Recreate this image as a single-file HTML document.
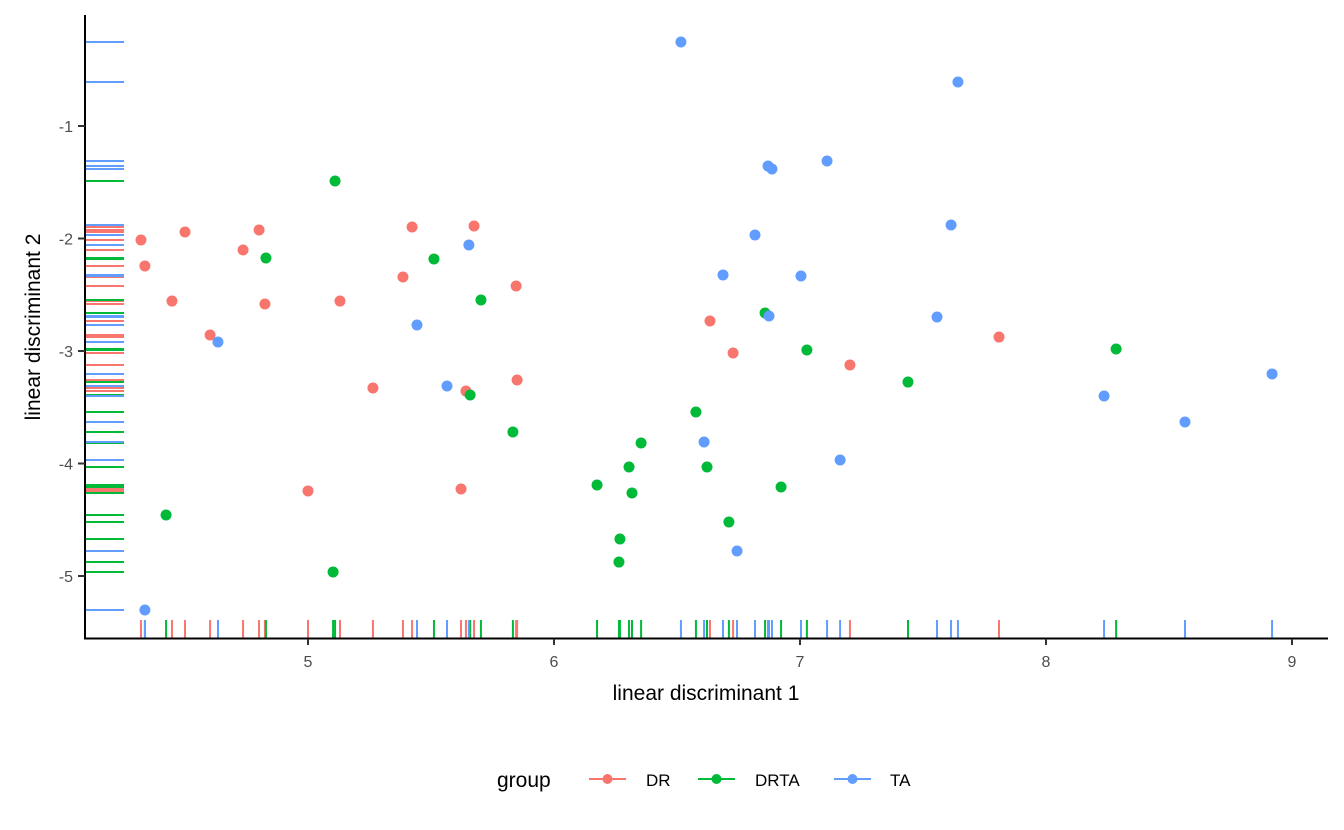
<!DOCTYPE html>
<html><head><meta charset="utf-8"><style>
body{margin:0;background:#fff;}
svg{display:block;font-family:"Liberation Sans",sans-serif;}
</style></head><body>
<svg id="chart" width="1344" height="830">
<g id="rugs"></g>
<g id="points"></g>
<g id="axes"></g>
<text x="706" y="700" font-size="21" text-anchor="middle" fill="#000">linear discriminant 1</text>
<text x="0" y="0" font-size="21" text-anchor="middle" fill="#000" transform="translate(40,327) rotate(-90)">linear discriminant 2</text>
<g>
<text x="497" y="787" font-size="21" fill="#000">group</text>
<g><line x1="589" y1="779" x2="626" y2="779" stroke="#F8766D" stroke-width="2"/><circle cx="607.5" cy="779" r="5" fill="#F8766D"/><text x="646" y="786" font-size="17">DR</text></g>
<g><line x1="698" y1="779" x2="735" y2="779" stroke="#00BA38" stroke-width="2"/><circle cx="716.5" cy="779" r="5" fill="#00BA38"/><text x="755" y="786" font-size="17">DRTA</text></g>
<g><line x1="834" y1="779" x2="871" y2="779" stroke="#619CFF" stroke-width="2"/><circle cx="852.5" cy="779" r="5" fill="#619CFF"/><text x="890" y="786" font-size="17">TA</text></g>
</g>
</svg>
<script>
const groups=["DR","DRTA","TA"];
const colors=["#F8766D","#00BA38","#619CFF"];
const drX=[4.321,4.337,4.5,4.447,4.736,4.801,4.825,4.602,5.0,5.13,5.264,5.386,5.423,5.675,5.642,5.622,5.846,5.85,6.634,6.728,7.203,7.809];
const drY=[-2.013,-2.244,-1.942,-2.556,-2.102,-1.924,-2.582,-2.858,-4.244,-2.556,-3.329,-2.342,-1.898,-1.889,-3.356,-4.227,-2.422,-3.258,-2.733,-3.018,-3.124,-2.876];
const drtaX=[5.11,4.829,5.512,5.703,5.659,5.833,4.423,5.102,6.175,6.305,6.354,6.317,6.268,6.264,6.577,6.622,6.711,6.858,7.028,6.923,7.439,8.285];
const drtaY=[-1.489,-2.173,-2.182,-2.547,-3.391,-3.72,-4.458,-4.964,-4.191,-4.031,-3.818,-4.262,-4.671,-4.876,-3.542,-4.031,-4.52,-2.662,-2.991,-4.209,-3.276,-2.982];
const taX=[4.634,4.337,5.443,5.565,5.654,6.516,7.642,6.87,6.886,7.11,6.817,6.687,6.874,7.004,7.614,7.557,6.61,7.163,6.744,8.236,8.565,8.919];
const taY=[-2.92,-5.302,-2.769,-3.311,-2.058,-0.253,-0.609,-1.356,-1.382,-1.311,-1.969,-2.324,-2.689,-2.333,-1.88,-2.698,-3.809,-3.969,-4.778,-3.4,-3.631,-3.204];
const xTicks=[5,6,7,8,9];
const yTicks=[-1,-2,-3,-4,-5];
const NS="http://www.w3.org/2000/svg";
const xs=v=>308+(v-5)*246;
const ys=v=>126+(-1-v)*112.5;
function mk(tag,attrs,parent){const e=document.createElementNS(NS,tag);for(const k in attrs)e.setAttribute(k,attrs[k]);parent.appendChild(e);return e;}
const rugs=document.getElementById('rugs'),pts=document.getElementById('points'),axes=document.getElementById('axes');
const data=[[drX,drY],[drtaX,drtaY],[taX,taY]];
data.forEach((d,g)=>{
  d[0].forEach((x,i)=>{
    const y=d[1][i];
    const r1=mk('line',{x1:xs(x),x2:xs(x),y1:620,y2:638,stroke:colors[g],'stroke-width':2},rugs);
    
    
    const r2=mk('line',{x1:86,x2:124,y1:ys(y),y2:ys(y),stroke:colors[g],'stroke-width':2},rugs);
    
    
  });
});
data.forEach((d,g)=>{
  d[0].forEach((x,i)=>{
    const c=mk('circle',{cx:xs(x),cy:ys(d[1][i]),r:5.5,fill:colors[g]},pts);
    
    
  });
});
mk('line',{x1:85,x2:85,y1:15,y2:639.5,stroke:'#000','stroke-width':2},axes);
mk('line',{x1:84,x2:1328,y1:638.5,y2:638.5,stroke:'#000','stroke-width':2},axes);
xTicks.forEach(t=>{
  mk('line',{x1:xs(t),x2:xs(t),y1:639,y2:645,stroke:'#333','stroke-width':2},axes);
  const tx=mk('text',{x:xs(t),y:667,'font-size':16,'text-anchor':'middle',fill:'#4d4d4d'},axes);
  tx.textContent=t;
  
  
});
yTicks.forEach(t=>{
  mk('line',{x1:78,x2:85,y1:ys(t),y2:ys(t),stroke:'#333','stroke-width':2},axes);
  const tx=mk('text',{x:73,y:ys(t)+6,'font-size':16,'text-anchor':'end',fill:'#4d4d4d'},axes);
  tx.textContent='-'+Math.abs(t);
  
  
});
</script>
</body></html>
